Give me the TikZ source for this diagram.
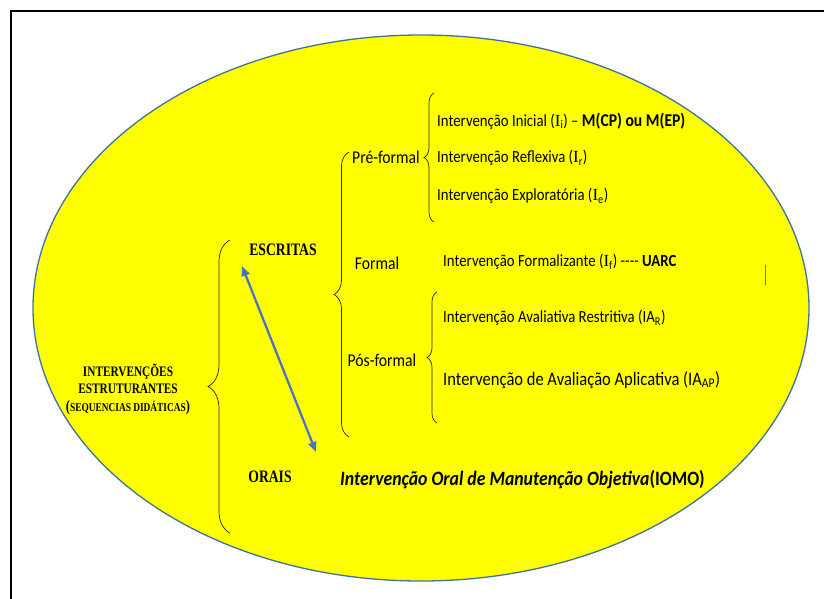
\documentclass[tikz,border=0pt]{standalone}
\usepackage{fontspec}
\setmainfont[FakeStretch=0.87]{Carlito}
\newfontfamily\cam[FakeStretch=0.78]{Liberation Serif}
\newfontfamily\serI{Liberation Serif}
\usetikzlibrary{decorations.pathreplacing,arrows.meta}
\definecolor{ellfill}{RGB}{255,255,0}
\definecolor{elldraw}{RGB}{65,113,156}
\definecolor{arrblue}{RGB}{68,114,196}
\newcommand{\Is}[1]{{\serI I}\textsubscript{#1}}
\begin{document}
\begin{tikzpicture}[x=1pt,y=-1pt,
  intv/.style={anchor=west,inner sep=0pt,font=\fontsize{17}{20}\selectfont},
  lab/.style={inner sep=0pt,font=\fontsize{18}{21}\selectfont},
  caps/.style={inner sep=0pt,font=\cam\bfseries\fontsize{17.5}{20}\selectfont},
  brc/.style={decorate,decoration={brace,amplitude=#1,aspect=0.5},line width=0.7pt,draw=black!85},
  arr/.style={{Triangle[length=10pt,width=8pt]}-{Triangle[length=10pt,width=8pt]},line width=2.2pt,draw=arrblue},
  frm/.style={line width=2pt,draw=black}]
\useasboundingbox (0,0) rectangle (824,598);
\begin{scope}
  \clip (0,0) rectangle (824,598);
  \draw[frm] (11,660) -- (11,11) -- (880,11);
\end{scope}
\draw[fill=ellfill,draw=elldraw,line width=1.3pt] (421,308) ellipse [x radius=388pt,y radius=273pt];

% left labels
\node[inner sep=0pt,align=center,font=\cam\bfseries\fontsize{14.5}{17.5}\selectfont] (root) at (128,389)
  {INTERVENÇÕES\\ESTRUTURANTES\\{\fontsize{16}{17.5}\selectfont(}{\fontsize{12}{14}\selectfont SEQUENCIAS DIDÁTICAS}{\fontsize{16}{17.5}\selectfont)}};
\node[caps] (esc) at (283,250) {ESCRITAS};
\node[caps] (ora) at (270,477) {ORAIS};

% level 2 labels
\node[lab] (pre) at (386,157) {Pré-formal};
\node[lab] (for) at (377,263) {Formal};
\node[lab] (pos) at (382,360) {Pós-formal};

% interventions
\node[intv] (i1) at (437,121) {Intervenção Inicial (\Is{i}) – {\bfseries\fontsize{18}{20}\selectfont M(CP) ou M(EP)}};
\node[intv] (i2) at (437,158) {Intervenção Reflexiva (\Is{r})};
\node[intv] (i3) at (437,196) {Intervenção Exploratória (\Is{e})};
\node[intv] (i4) at (443,262) {Intervenção Formalizante (\Is{f}) -{}-{}-{}- {\bfseries UARC}};
\node[intv] (i5) at (443,318) {Intervenção Avaliativa Restritiva (IA\textsubscript{R})};
\node[intv,font=\fontsize{19}{22}\selectfont] (i6) at (443,380) {Intervenção de Avaliação Aplicativa (IA\textsubscript{AP})};
\node[intv,font=\fontsize{20.4}{23}\selectfont\bfseries] (io) at (340,480) {\itshape Intervenção Oral de Manutenção Objetiva\upshape(IOMO)};

% braces
\coordinate (b0a) at (230,533); \coordinate (b0b) at (230,240);
\draw[brc=22pt] (b0a) -- (b0b);
\coordinate (b1a) at (349,437); \coordinate (b1b) at (349,152);
\draw[brc=15pt] (b1a) -- (b1b);
\coordinate (b2a) at (434,222); \coordinate (b2b) at (434,93);
\draw[brc=10pt] (b2a) -- (b2b);
\coordinate (b3a) at (437,423); \coordinate (b3b) at (437,292);
\draw[brc=10pt] (b3a) -- (b3b);

% double arrow
\coordinate (a1) at (242,266); \coordinate (a2) at (316,452);
\draw[arr] (a1) -- (a2);

% small cursor mark
\coordinate (m1) at (765,265); \coordinate (m2) at (765,285);
\draw[draw=black!55,line width=0.8pt] (m1) -- (m2);
\end{tikzpicture}
\end{document}
